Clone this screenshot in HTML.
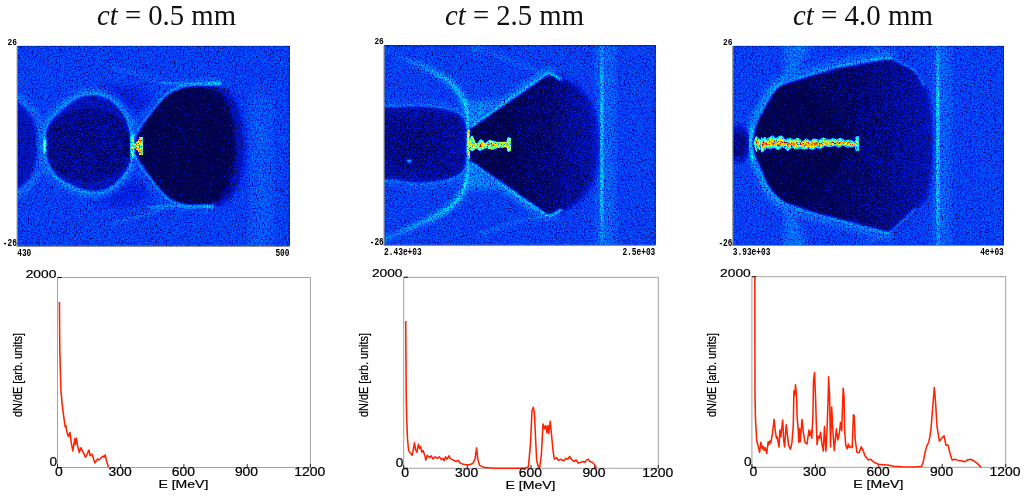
<!DOCTYPE html><html><head><meta charset="utf-8"><title>ct</title><style>html,body{margin:0;padding:0;background:#fff;overflow:hidden}svg{display:block}</style></head><body>
<svg width="1024" height="499" viewBox="0 0 1024 499">

<defs>
<linearGradient id="gr3" gradientUnits="userSpaceOnUse" x1="770" y1="0" x2="930" y2="0"><stop offset="0" stop-color="#010101"/><stop offset="0.5" stop-color="#030303"/><stop offset="1" stop-color="#0a0a0a"/></linearGradient>
<linearGradient id="gr2" gradientUnits="userSpaceOnUse" x1="500" y1="0" x2="598" y2="0"><stop offset="0" stop-color="#010101"/><stop offset="0.5" stop-color="#040404"/><stop offset="1" stop-color="#0b0b0b"/></linearGradient>
<linearGradient id="gr1" gradientUnits="userSpaceOnUse" x1="185" y1="0" x2="245" y2="0"><stop offset="0" stop-color="#010101"/><stop offset="0.5" stop-color="#050505"/><stop offset="1" stop-color="#0f0f0f"/></linearGradient>
<linearGradient id="vl" x1="0" y1="0" x2="0" y2="1"><stop offset="0" stop-color="#303030"/><stop offset="0.3" stop-color="#4f4f4f"/><stop offset="0.7" stop-color="#4f4f4f"/><stop offset="1" stop-color="#303030"/></linearGradient>
<linearGradient id="gat" gradientUnits="userSpaceOnUse" x1="470" y1="126" x2="395" y2="55"><stop offset="0" stop-color="#4f4f4f"/><stop offset="0.5" stop-color="#424242"/><stop offset="1" stop-color="#262626"/></linearGradient>
<linearGradient id="gab" gradientUnits="userSpaceOnUse" x1="470" y1="164" x2="395" y2="235"><stop offset="0" stop-color="#4f4f4f"/><stop offset="0.6" stop-color="#424242"/><stop offset="1" stop-color="#303030"/></linearGradient>
<linearGradient id="gath" gradientUnits="userSpaceOnUse" x1="470" y1="126" x2="395" y2="55"><stop offset="0" stop-color="#3d3d3d"/><stop offset="0.5" stop-color="#363636"/><stop offset="1" stop-color="#242424"/></linearGradient>
<linearGradient id="gabh" gradientUnits="userSpaceOnUse" x1="470" y1="164" x2="395" y2="235"><stop offset="0" stop-color="#3d3d3d"/><stop offset="0.6" stop-color="#363636"/><stop offset="1" stop-color="#2b2b2b"/></linearGradient>
<filter id="b05" color-interpolation-filters="sRGB"><feGaussianBlur stdDeviation="0.5"/></filter>
<filter id="b1" color-interpolation-filters="sRGB"><feGaussianBlur stdDeviation="1"/></filter>
<filter id="b15" color-interpolation-filters="sRGB"><feGaussianBlur stdDeviation="1.5"/></filter>
<filter id="b2" color-interpolation-filters="sRGB"><feGaussianBlur stdDeviation="2"/></filter>
<filter id="b3" color-interpolation-filters="sRGB"><feGaussianBlur stdDeviation="3"/></filter>
<filter id="b5" color-interpolation-filters="sRGB"><feGaussianBlur stdDeviation="5"/></filter>
<filter id="b8" color-interpolation-filters="sRGB"><feGaussianBlur stdDeviation="8"/></filter>


<filter id="jet0" filterUnits="userSpaceOnUse" x="17.5" y="46.0" width="272.0" height="199.7" color-interpolation-filters="sRGB">
<feTurbulence type="fractalNoise" baseFrequency="0.71" numOctaves="2" seed="3" result="t"/>
<feColorMatrix in="t" type="matrix" values="2.2 0 0 0 -0.6  2.2 0 0 0 -0.6  2.2 0 0 0 -0.6  0 0 0 0 1" result="n0"/>
<feComponentTransfer in="n0" result="n"><feFuncR type="gamma" exponent="0.6"/><feFuncG type="gamma" exponent="0.6"/><feFuncB type="gamma" exponent="0.6"/></feComponentTransfer>
<feColorMatrix in="t" type="matrix" values="0 1 0 0 0  0 1 0 0 0  0 1 0 0 0  0 0 0 0 1" result="gr"/>
<feColorMatrix in="t" type="matrix" values="0 0 8 0 -5.0  0 0 8 0 -5.0  0 0 8 0 -5.0  0 0 0 0 1" result="d"/>
<feComposite in="SourceGraphic" in2="n" operator="arithmetic" k1="1.0" k2="0.38" k3="0" k4="0" result="v1"/>
<feComposite in="SourceGraphic" in2="gr" operator="arithmetic" k1="0" k2="60" k3="10" k4="-6.5" result="w"/>
<feColorMatrix in="SourceGraphic" type="matrix" values="-20 0 0 0 2  -20 0 0 0 2  -20 0 0 0 2  0 0 0 0 1" result="w2"/>
<feComposite in="w" in2="w2" operator="arithmetic" k1="1" k2="0" k3="0" k4="0" result="wd"/>
<feColorMatrix in="wd" type="matrix" values="0.08 0 0 0 0  0.08 0 0 0 0  0.08 0 0 0 0  0 0 0 0 1" result="ws"/>
<feBlend in="v1" in2="ws" mode="lighten" result="v2"/>
<feComposite in="v2" in2="d" operator="arithmetic" k1="0" k2="1" k3="-0.09" k4="0" result="v"/>
<feComponentTransfer in="v" result="c">
<feFuncR type="table" tableValues="0.000 0.000 0.000 0.000 0.000 0.000 0.000 0.000 0.000 0.000 0.000 0.000 0.000 0.000 0.000 0.058 0.154 0.250 0.346 0.442 0.538 0.635 0.731 0.827 0.923 1.000 1.000 1.000 1.000 1.000 1.000 1.000 1.000 1.000 1.000 1.000 0.917 0.812 0.708 0.604 0.500"/>
<feFuncG type="table" tableValues="0.010 0.018 0.047 0.080 0.130 0.180 0.262 0.344 0.426 0.508 0.590 0.672 0.754 0.836 0.918 1.000 1.000 1.000 1.000 1.000 1.000 1.000 1.000 1.000 1.000 1.000 0.962 0.865 0.769 0.673 0.577 0.481 0.385 0.288 0.192 0.096 0.000 0.000 0.000 0.000 0.000"/>
<feFuncB type="table" tableValues="0.300 0.448 0.595 0.743 0.891 0.962 0.983 1.000 1.000 1.000 1.000 1.000 1.000 1.000 1.000 0.946 0.857 0.768 0.679 0.589 0.500 0.411 0.321 0.232 0.143 0.054 0.000 0.000 0.000 0.000 0.000 0.000 0.000 0.000 0.000 0.000 0.000 0.000 0.000 0.000 0.000"/>
<feFuncA type="linear" slope="0" intercept="1"/>
</feComponentTransfer>
<feGaussianBlur in="c" stdDeviation="0.55"/>
</filter>

<filter id="jet1" filterUnits="userSpaceOnUse" x="384.4" y="45.5" width="270.9" height="199.2" color-interpolation-filters="sRGB">
<feTurbulence type="fractalNoise" baseFrequency="0.71" numOctaves="2" seed="10" result="t"/>
<feColorMatrix in="t" type="matrix" values="2.2 0 0 0 -0.6  2.2 0 0 0 -0.6  2.2 0 0 0 -0.6  0 0 0 0 1" result="n0"/>
<feComponentTransfer in="n0" result="n"><feFuncR type="gamma" exponent="0.6"/><feFuncG type="gamma" exponent="0.6"/><feFuncB type="gamma" exponent="0.6"/></feComponentTransfer>
<feColorMatrix in="t" type="matrix" values="0 1 0 0 0  0 1 0 0 0  0 1 0 0 0  0 0 0 0 1" result="gr"/>
<feColorMatrix in="t" type="matrix" values="0 0 8 0 -5.0  0 0 8 0 -5.0  0 0 8 0 -5.0  0 0 0 0 1" result="d"/>
<feComposite in="SourceGraphic" in2="n" operator="arithmetic" k1="1.0" k2="0.38" k3="0" k4="0" result="v1"/>
<feComposite in="SourceGraphic" in2="gr" operator="arithmetic" k1="0" k2="60" k3="10" k4="-6.5" result="w"/>
<feColorMatrix in="SourceGraphic" type="matrix" values="-20 0 0 0 2  -20 0 0 0 2  -20 0 0 0 2  0 0 0 0 1" result="w2"/>
<feComposite in="w" in2="w2" operator="arithmetic" k1="1" k2="0" k3="0" k4="0" result="wd"/>
<feColorMatrix in="wd" type="matrix" values="0.08 0 0 0 0  0.08 0 0 0 0  0.08 0 0 0 0  0 0 0 0 1" result="ws"/>
<feBlend in="v1" in2="ws" mode="lighten" result="v2"/>
<feComposite in="v2" in2="d" operator="arithmetic" k1="0" k2="1" k3="-0.09" k4="0" result="v"/>
<feComponentTransfer in="v" result="c">
<feFuncR type="table" tableValues="0.000 0.000 0.000 0.000 0.000 0.000 0.000 0.000 0.000 0.000 0.000 0.000 0.000 0.000 0.000 0.058 0.154 0.250 0.346 0.442 0.538 0.635 0.731 0.827 0.923 1.000 1.000 1.000 1.000 1.000 1.000 1.000 1.000 1.000 1.000 1.000 0.917 0.812 0.708 0.604 0.500"/>
<feFuncG type="table" tableValues="0.010 0.018 0.047 0.080 0.130 0.180 0.262 0.344 0.426 0.508 0.590 0.672 0.754 0.836 0.918 1.000 1.000 1.000 1.000 1.000 1.000 1.000 1.000 1.000 1.000 1.000 0.962 0.865 0.769 0.673 0.577 0.481 0.385 0.288 0.192 0.096 0.000 0.000 0.000 0.000 0.000"/>
<feFuncB type="table" tableValues="0.300 0.448 0.595 0.743 0.891 0.962 0.983 1.000 1.000 1.000 1.000 1.000 1.000 1.000 1.000 0.946 0.857 0.768 0.679 0.589 0.500 0.411 0.321 0.232 0.143 0.054 0.000 0.000 0.000 0.000 0.000 0.000 0.000 0.000 0.000 0.000 0.000 0.000 0.000 0.000 0.000"/>
<feFuncA type="linear" slope="0" intercept="1"/>
</feComponentTransfer>
<feGaussianBlur in="c" stdDeviation="0.55"/>
</filter>

<filter id="jet2" filterUnits="userSpaceOnUse" x="733.1" y="46.0" width="270.7" height="198.9" color-interpolation-filters="sRGB">
<feTurbulence type="fractalNoise" baseFrequency="0.71" numOctaves="2" seed="17" result="t"/>
<feColorMatrix in="t" type="matrix" values="2.2 0 0 0 -0.6  2.2 0 0 0 -0.6  2.2 0 0 0 -0.6  0 0 0 0 1" result="n0"/>
<feComponentTransfer in="n0" result="n"><feFuncR type="gamma" exponent="0.6"/><feFuncG type="gamma" exponent="0.6"/><feFuncB type="gamma" exponent="0.6"/></feComponentTransfer>
<feColorMatrix in="t" type="matrix" values="0 1 0 0 0  0 1 0 0 0  0 1 0 0 0  0 0 0 0 1" result="gr"/>
<feColorMatrix in="t" type="matrix" values="0 0 8 0 -5.0  0 0 8 0 -5.0  0 0 8 0 -5.0  0 0 0 0 1" result="d"/>
<feComposite in="SourceGraphic" in2="n" operator="arithmetic" k1="1.0" k2="0.38" k3="0" k4="0" result="v1"/>
<feComposite in="SourceGraphic" in2="gr" operator="arithmetic" k1="0" k2="60" k3="10" k4="-6.5" result="w"/>
<feColorMatrix in="SourceGraphic" type="matrix" values="-20 0 0 0 2  -20 0 0 0 2  -20 0 0 0 2  0 0 0 0 1" result="w2"/>
<feComposite in="w" in2="w2" operator="arithmetic" k1="1" k2="0" k3="0" k4="0" result="wd"/>
<feColorMatrix in="wd" type="matrix" values="0.08 0 0 0 0  0.08 0 0 0 0  0.08 0 0 0 0  0 0 0 0 1" result="ws"/>
<feBlend in="v1" in2="ws" mode="lighten" result="v2"/>
<feComposite in="v2" in2="d" operator="arithmetic" k1="0" k2="1" k3="-0.09" k4="0" result="v"/>
<feComponentTransfer in="v" result="c">
<feFuncR type="table" tableValues="0.000 0.000 0.000 0.000 0.000 0.000 0.000 0.000 0.000 0.000 0.000 0.000 0.000 0.000 0.000 0.058 0.154 0.250 0.346 0.442 0.538 0.635 0.731 0.827 0.923 1.000 1.000 1.000 1.000 1.000 1.000 1.000 1.000 1.000 1.000 1.000 0.917 0.812 0.708 0.604 0.500"/>
<feFuncG type="table" tableValues="0.010 0.018 0.047 0.080 0.130 0.180 0.262 0.344 0.426 0.508 0.590 0.672 0.754 0.836 0.918 1.000 1.000 1.000 1.000 1.000 1.000 1.000 1.000 1.000 1.000 1.000 0.962 0.865 0.769 0.673 0.577 0.481 0.385 0.288 0.192 0.096 0.000 0.000 0.000 0.000 0.000"/>
<feFuncB type="table" tableValues="0.300 0.448 0.595 0.743 0.891 0.962 0.983 1.000 1.000 1.000 1.000 1.000 1.000 1.000 1.000 0.946 0.857 0.768 0.679 0.589 0.500 0.411 0.321 0.232 0.143 0.054 0.000 0.000 0.000 0.000 0.000 0.000 0.000 0.000 0.000 0.000 0.000 0.000 0.000 0.000 0.000"/>
<feFuncA type="linear" slope="0" intercept="1"/>
</feComponentTransfer>
<feGaussianBlur in="c" stdDeviation="0.55"/>
</filter>
</defs>
<rect width="1024" height="499" fill="#fff"/>
<text x="97" y="24.6" font-family="'Liberation Serif',serif" font-size="29" fill="#111" textLength="139" lengthAdjust="spacingAndGlyphs"><tspan font-style="italic">ct</tspan> = 0.5 mm</text>
<text x="445" y="24.6" font-family="'Liberation Serif',serif" font-size="29" fill="#111" textLength="139" lengthAdjust="spacingAndGlyphs"><tspan font-style="italic">ct</tspan> = 2.5 mm</text>
<text x="793" y="24.6" font-family="'Liberation Serif',serif" font-size="29" fill="#111" textLength="140" lengthAdjust="spacingAndGlyphs"><tspan font-style="italic">ct</tspan> = 4.0 mm</text>
<g filter="url(#jet0)">
<rect x="12.5" y="41.0" width="282.0" height="209.7" fill="#212121"/>
<rect x="250" y="95" width="22" height="170" fill="#292929" filter="url(#b8)"/>
<ellipse cx="120" cy="100" rx="30" ry="14" fill="#181818" filter="url(#b5)"/>
<ellipse cx="120" cy="192" rx="30" ry="14" fill="#181818" filter="url(#b5)"/>
<ellipse cx="10" cy="145.8" rx="30" ry="50" fill="none" stroke="#363636" stroke-width="5" filter="url(#b3)"/>
<ellipse cx="10" cy="145.8" rx="27" ry="45" fill="#0b0b0b" filter="url(#b3)"/>
<path d="M44.3,146.0 C44.3,140.8 43.9,132.5 46.0,127.0 C48.1,121.5 52.2,117.8 57.0,113.0 C61.8,108.2 69.2,101.8 75.0,98.5 C80.8,95.2 86.2,93.5 92.0,93.5 C97.8,93.5 104.7,95.2 110.0,98.5 C115.3,101.8 120.6,107.8 124.0,113.0 C127.4,118.2 129.2,124.5 130.5,130.0 C131.8,135.5 131.9,140.6 132.0,146.0 C132.1,151.4 132.4,157.5 131.2,162.5 C129.9,167.5 127.9,171.8 124.5,176.0 C121.1,180.2 115.5,185.2 111.0,188.0 C106.5,190.8 102.5,192.2 97.6,192.7 C92.7,193.1 87.1,192.4 81.5,190.7 C75.9,189.0 68.9,185.7 64.0,182.6 C59.1,179.5 54.9,176.0 51.9,172.0 C48.9,168.0 47.2,162.7 45.9,158.4 C44.6,154.1 44.3,151.2 44.3,146.0 Z" fill="none" stroke="#343434" stroke-width="9" filter="url(#b3)"/>
<path d="M131.7,145.8 C132.4,143.8 133.9,137.8 135.7,134.0 C137.5,130.2 139.9,126.8 142.3,123.3 C144.7,119.8 147.2,116.7 150.3,112.7 C153.4,108.7 157.4,103.0 161.0,99.3 C164.6,95.6 167.2,93.0 171.7,90.6 C176.1,88.2 182.5,86.0 187.7,85.0 C192.9,84.0 197.4,84.5 203.0,84.3 C208.6,84.1 218.0,83.7 221.0,83.6" fill="none" stroke="#383838" stroke-width="8" filter="url(#b3)"/>
<path d="M131.7,145.8 C132.4,147.8 133.9,153.9 135.7,157.6 C137.5,161.4 139.9,164.8 142.3,168.3 C144.7,171.9 147.2,174.9 150.3,178.9 C153.4,182.9 157.4,188.6 161.0,192.3 C164.6,196.0 167.2,198.6 171.7,201.0 C176.1,203.4 183.0,205.7 187.7,206.6 C192.4,207.5 195.6,206.4 200.0,206.3 C204.4,206.2 211.7,206.1 214.0,206.0" fill="none" stroke="#383838" stroke-width="8" filter="url(#b3)"/>
<path d="M166,84 Q140,74 112,67 M166,207.5 Q140,217 112,224" fill="none" stroke="#2f2f2f" stroke-width="2.5" filter="url(#b15)"/>
<path d="M14,96 L44,121 M14,196 L44,171" fill="none" stroke="#303030" stroke-width="3" filter="url(#b2)"/>
<path d="M44.3,146.0 C44.3,140.8 43.9,132.5 46.0,127.0 C48.1,121.5 52.2,117.8 57.0,113.0 C61.8,108.2 69.2,101.8 75.0,98.5 C80.8,95.2 86.2,93.5 92.0,93.5 C97.8,93.5 104.7,95.2 110.0,98.5 C115.3,101.8 120.6,107.8 124.0,113.0 C127.4,118.2 129.2,124.5 130.5,130.0 C131.8,135.5 131.9,140.6 132.0,146.0 C132.1,151.4 132.4,157.5 131.2,162.5 C129.9,167.5 127.9,171.8 124.5,176.0 C121.1,180.2 115.5,185.2 111.0,188.0 C106.5,190.8 102.5,192.2 97.6,192.7 C92.7,193.1 87.1,192.4 81.5,190.7 C75.9,189.0 68.9,185.7 64.0,182.6 C59.1,179.5 54.9,176.0 51.9,172.0 C48.9,168.0 47.2,162.7 45.9,158.4 C44.6,154.1 44.3,151.2 44.3,146.0 Z" fill="#121212" filter="url(#b15)"/>
<path d="M46.0,146.0 C46.0,140.3 46.0,132.8 48.0,128.0 C50.0,123.2 54.0,120.0 58.0,117.0 C62.0,114.0 66.3,111.7 72.0,110.0 C77.7,108.3 85.7,107.0 92.0,107.0 C98.3,107.0 105.0,108.0 110.0,110.0 C115.0,112.0 118.8,115.3 122.0,119.0 C125.2,122.7 127.5,127.5 129.0,132.0 C130.5,136.5 131.0,141.3 131.0,146.0 C131.0,150.7 130.5,155.8 129.0,160.0 C127.5,164.2 125.2,167.8 122.0,171.0 C118.8,174.2 115.0,177.0 110.0,179.0 C105.0,181.0 98.3,182.8 92.0,183.0 C85.7,183.2 77.7,181.7 72.0,180.0 C66.3,178.3 62.0,176.0 58.0,173.0 C54.0,170.0 50.0,166.5 48.0,162.0 C46.0,157.5 46.0,151.7 46.0,146.0 Z" fill="#060606" filter="url(#b2)"/>
<path d="M131.7,145.8 C131.7,141.9 133.9,137.8 135.7,134.0 C137.5,130.2 139.9,126.8 142.3,123.3 C144.7,119.8 147.2,116.7 150.3,112.7 C153.4,108.7 157.4,103.0 161.0,99.3 C164.6,95.6 167.2,93.0 171.7,90.6 C176.1,88.2 182.4,85.9 187.7,85.0 C193.0,84.1 198.4,84.5 203.7,85.0 C209.0,85.5 214.8,85.6 219.7,88.0 C224.6,90.4 229.6,94.8 233.0,99.3 C236.4,103.8 238.2,107.5 240.0,115.3 C241.8,123.0 243.7,135.6 243.7,145.8 C243.7,156.0 241.8,168.6 240.0,176.3 C238.2,184.1 236.4,187.8 233.0,192.3 C229.6,196.9 224.6,201.2 219.7,203.6 C214.8,206.0 209.0,206.1 203.7,206.6 C198.4,207.1 193.0,207.5 187.7,206.6 C182.4,205.7 176.1,203.4 171.7,201.0 C167.2,198.6 164.6,196.0 161.0,192.3 C157.4,188.6 153.4,182.9 150.3,178.9 C147.2,174.9 144.7,171.9 142.3,168.3 C139.9,164.8 137.5,161.4 135.7,157.6 C133.9,153.9 131.7,149.7 131.7,145.8 Z" fill="url(#gr1)" filter="url(#b3)"/>
<path d="M132.5,145.8 C132.5,141.9 134.8,137.7 136.5,134.0 C138.2,130.3 140.6,127.0 143.0,123.5 C145.4,120.0 147.9,116.8 151.0,113.0 C154.1,109.2 158.0,104.1 161.5,100.5 C165.0,96.9 167.8,93.8 172.0,91.5 C176.2,89.2 181.8,87.2 187.0,86.4 C192.2,85.6 198.2,85.8 203.0,86.6 C207.8,87.4 212.2,88.9 216.0,91.5 C219.8,94.1 223.2,96.9 226.0,102.0 C228.8,107.1 231.0,114.7 232.5,122.0 C234.0,129.3 235.0,137.9 235.0,145.8 C235.0,153.7 234.0,162.3 232.5,169.6 C231.0,176.9 228.8,184.5 226.0,189.6 C223.2,194.7 219.8,197.5 216.0,200.1 C212.2,202.7 207.8,204.2 203.0,205.0 C198.2,205.9 192.2,206.0 187.0,205.2 C181.8,204.4 176.2,202.5 172.0,200.1 C167.8,197.8 165.0,194.7 161.5,191.1 C158.0,187.5 154.1,182.4 151.0,178.6 C147.9,174.8 145.4,171.6 143.0,168.1 C140.6,164.6 138.2,161.3 136.5,157.6 C134.8,153.9 132.5,149.7 132.5,145.8 Z" fill="#000000" filter="url(#b3)"/>
<path d="M44.3,146.0 C44.3,140.8 43.9,132.5 46.0,127.0 C48.1,121.5 52.2,117.8 57.0,113.0 C61.8,108.2 69.2,101.8 75.0,98.5 C80.8,95.2 86.2,93.5 92.0,93.5 C97.8,93.5 104.7,95.2 110.0,98.5 C115.3,101.8 120.6,107.8 124.0,113.0 C127.4,118.2 129.2,124.5 130.5,130.0 C131.8,135.5 131.9,140.6 132.0,146.0 C132.1,151.4 132.4,157.5 131.2,162.5 C129.9,167.5 127.9,171.8 124.5,176.0 C121.1,180.2 115.5,185.2 111.0,188.0 C106.5,190.8 102.5,192.2 97.6,192.7 C92.7,193.1 87.1,192.4 81.5,190.7 C75.9,189.0 68.9,185.7 64.0,182.6 C59.1,179.5 54.9,176.0 51.9,172.0 C48.9,168.0 47.2,162.7 45.9,158.4 C44.6,154.1 44.3,151.2 44.3,146.0 Z" fill="none" stroke="#454545" stroke-width="2" filter="url(#b1)"/>
<path d="M131.7,145.8 C132.4,143.8 133.9,137.8 135.7,134.0 C137.5,130.2 139.9,126.8 142.3,123.3 C144.7,119.8 147.2,116.7 150.3,112.7 C153.4,108.7 157.4,103.0 161.0,99.3 C164.6,95.6 167.2,93.0 171.7,90.6 C176.1,88.2 182.5,86.0 187.7,85.0 C192.9,84.0 197.4,84.5 203.0,84.3 C208.6,84.1 218.0,83.7 221.0,83.6" fill="none" stroke="#4f4f4f" stroke-width="1.8" filter="url(#b1)"/>
<path d="M131.7,145.8 C132.4,147.8 133.9,153.9 135.7,157.6 C137.5,161.4 139.9,164.8 142.3,168.3 C144.7,171.9 147.2,174.9 150.3,178.9 C153.4,182.9 157.4,188.6 161.0,192.3 C164.6,196.0 167.2,198.6 171.7,201.0 C176.1,203.4 183.0,205.7 187.7,206.6 C192.4,207.5 195.6,206.4 200.0,206.3 C204.4,206.2 211.7,206.1 214.0,206.0" fill="none" stroke="#4f4f4f" stroke-width="1.8" filter="url(#b1)"/>
<path d="M162,83.0 Q188,84.8 221,83.6 M148,207.4 Q180,205.2 214,206.4" fill="none" stroke="#4a4a4a" stroke-width="1.5" filter="url(#b1)"/>
<ellipse cx="44.8" cy="145.8" rx="1.3" ry="8" fill="#757575" filter="url(#b1)"/>
<ellipse cx="132.3" cy="145.8" rx="1.6" ry="13" fill="#757575" filter="url(#b1)"/>
<path d="M133,146 L138.5,140 L139.5,137 L142.5,137 L142.8,155 L139.5,155 L138.5,151.5 Z" fill="#999999" filter="url(#b05)"/>
</g>
<path d="M17.5,46.2 H289.2 V245.7" fill="none" stroke="#000830" stroke-opacity="0.55" stroke-width="0.7"/>
<path d="M17.2,46.0 V246.29999999999998 H289.5" fill="none" stroke="#8e8e8e" stroke-width="1.2"/>
<g filter="url(#jet1)">
<rect x="379.4" y="40.5" width="280.9" height="209.2" fill="#212121"/>
<rect x="596" y="30" width="20" height="235" fill="#2b2b2b" filter="url(#b5)"/>
<path d="M470.0,126.0 C469.0,121.8 467.2,108.2 464.0,101.0 C460.8,93.8 456.3,88.0 451.0,83.0 C445.7,78.0 439.2,74.8 432.0,71.0 C424.8,67.2 416.7,63.8 408.0,60.0 C399.3,56.2 384.7,50.0 380.0,48.0" fill="none" stroke="url(#gath)" stroke-width="7" filter="url(#b2)"/>
<path d="M470.0,164.0 C469.0,168.2 467.2,181.9 464.0,189.0 C460.8,196.1 456.3,201.7 451.0,206.5 C445.7,211.3 439.2,214.2 432.0,218.0 C424.8,221.8 416.7,225.2 408.0,229.0 C399.3,232.8 384.7,239.0 380.0,241.0" fill="none" stroke="url(#gabh)" stroke-width="7" filter="url(#b2)"/>
<path d="M470.0,126.0 C469.0,121.8 467.2,108.2 464.0,101.0 C460.8,93.8 456.3,88.0 451.0,83.0 C445.7,78.0 439.2,74.8 432.0,71.0 C424.8,67.2 416.7,63.8 408.0,60.0 C399.3,56.2 384.7,50.0 380.0,48.0" fill="none" stroke="url(#gat)" stroke-width="2.4" filter="url(#b1)"/>
<path d="M470.0,164.0 C469.0,168.2 467.2,181.9 464.0,189.0 C460.8,196.1 456.3,201.7 451.0,206.5 C445.7,211.3 439.2,214.2 432.0,218.0 C424.8,221.8 416.7,225.2 408.0,229.0 C399.3,232.8 384.7,239.0 380.0,241.0" fill="none" stroke="url(#gab)" stroke-width="2.4" filter="url(#b1)"/>
<path d="M546,75 C520,64 495,55 470,44 M470,44 L478,58" fill="none" stroke="#2f2f2f" stroke-width="3" filter="url(#b2)"/>
<path d="M548,215 C520,220 500,226 478,236" fill="none" stroke="#303030" stroke-width="3" filter="url(#b2)"/>
<path d="M469,128 L464,100 L500,100 Z M469,161 L464,189 L500,189 Z" fill="#333333" filter="url(#b3)"/>
<path d="M378.0,112.0 C381.2,100.7 390.0,107.2 397.0,106.0 C404.0,104.8 412.0,104.7 420.0,105.0 C428.0,105.3 438.3,106.7 445.0,108.0 C451.7,109.3 456.3,110.3 460.0,113.0 C463.7,115.7 465.6,118.7 467.0,124.0 C468.4,129.3 468.5,137.8 468.5,144.6 C468.5,151.4 468.4,159.9 467.0,165.0 C465.6,170.1 463.7,172.3 460.0,175.0 C456.3,177.7 451.7,179.5 445.0,181.0 C438.3,182.5 428.0,184.0 420.0,184.0 C412.0,184.0 404.0,182.7 397.0,181.0 C390.0,179.3 381.2,185.5 378.0,174.0 C374.8,162.5 374.8,123.3 378.0,112.0 Z" fill="none" stroke="#383838" stroke-width="6" filter="url(#b3)"/>
<path d="M556,77 L551,74 L546,74.5 L471,127 L470.5,144.6 L471,162.2 L546,214.7 L551,215.2 L556,212.2" fill="none" stroke="#454545" stroke-width="8" filter="url(#b3)"/>
<path d="M378.0,112.0 C381.2,100.7 390.0,107.2 397.0,106.0 C404.0,104.8 412.0,104.7 420.0,105.0 C428.0,105.3 438.3,106.7 445.0,108.0 C451.7,109.3 456.3,110.3 460.0,113.0 C463.7,115.7 465.6,118.7 467.0,124.0 C468.4,129.3 468.5,137.8 468.5,144.6 C468.5,151.4 468.4,159.9 467.0,165.0 C465.6,170.1 463.7,172.3 460.0,175.0 C456.3,177.7 451.7,179.5 445.0,181.0 C438.3,182.5 428.0,184.0 420.0,184.0 C412.0,184.0 404.0,182.7 397.0,181.0 C390.0,179.3 381.2,185.5 378.0,174.0 C374.8,162.5 374.8,123.3 378.0,112.0 Z" fill="#080808" filter="url(#b3)"/>
<ellipse cx="412" cy="144.6" rx="32" ry="22" fill="#050505" filter="url(#b8)"/>
<path d="M540,78 L551,74 L575,88 L592,106 L597,125 L598,144.6 L597,164.2 L592,183.2 L575,201.2 L551,215.2 L540,211.2 Z" fill="url(#gr2)" filter="url(#b3)"/>
<path d="M470.5,144.6 L471,127 L546,74.5 L551,74 L575,88 L584,97 L584,192.2 L575,201.2 L551,215.2 L546,214.7 L471,162.2 Z" fill="url(#gr2)" stroke="url(#gr2)" stroke-width="2" stroke-linejoin="round" filter="url(#b2)"/>
<path d="M471.5,144.6 C471.5,139.1 467.8,133.8 472.0,128.0 C476.2,122.2 490.7,110.5 497.0,110.0 C503.3,109.5 507.2,119.2 510.0,125.0 C512.8,130.8 514.0,138.1 514.0,144.6 C514.0,151.1 512.8,158.4 510.0,164.2 C507.2,170.0 503.3,179.7 497.0,179.2 C490.7,178.7 476.2,167.0 472.0,161.2 C467.8,155.4 471.5,150.1 471.5,144.6 Z" fill="#000000" filter="url(#b2)"/>
<path d="M562,80 L551,73.6 L546,74 L471,126.5 M471,162.7 L546,215.2 L551,215.6 L562,209.2" fill="none" stroke="#575757" stroke-width="2.2" filter="url(#b1)"/>
<path d="M378.0,112.0 C381.2,100.7 390.0,107.2 397.0,106.0 C404.0,104.8 412.0,104.7 420.0,105.0 C428.0,105.3 438.3,106.7 445.0,108.0 C451.7,109.3 456.3,110.3 460.0,113.0 C463.7,115.7 465.6,118.7 467.0,124.0 C468.4,129.3 468.5,137.8 468.5,144.6 C468.5,151.4 468.4,159.9 467.0,165.0 C465.6,170.1 463.7,172.3 460.0,175.0 C456.3,177.7 451.7,179.5 445.0,181.0 C438.3,182.5 428.0,184.0 420.0,184.0 C412.0,184.0 404.0,182.7 397.0,181.0 C390.0,179.3 381.2,185.5 378.0,174.0 C374.8,162.5 374.8,123.3 378.0,112.0 Z" fill="none" stroke="#404040" stroke-width="1.6" filter="url(#b1)"/>
<path d="M464.5,100 Q468,112 468.5,128 Q467.5,144.6 468.5,161 Q468,178 464.5,190" fill="none" stroke="#4c4c4c" stroke-width="2.4" filter="url(#b1)"/>
<rect x="600.4" y="30" width="2.6" height="235" fill="url(#vl)" filter="url(#b1)"/>
<circle cx="409.3" cy="161" r="2" fill="#4c4c4c" filter="url(#b1)"/>
<path d="M468.8,130 Q467,144.6 469.5,158" fill="none" stroke="#808080" stroke-width="2.2" filter="url(#b05)"/>
<path d="M469,144 L472,137 L474,142 L477,146 L481,140.5 L485,145 L490,141 L496,143 L507.5,142.8 L508.5,138.5 L509.8,139 L509.8,150 L508.5,150.5 L507.5,146 L498,146.8 L492,148.5 L486,146.5 L480,149.5 L476,147 L472,150 Z" fill="#9e9e9e" stroke="#6b6b6b" stroke-width="2.6" stroke-linejoin="round" filter="url(#b05)"/>
</g>
<path d="M384.4,45.7 H655.0 V244.7" fill="none" stroke="#000830" stroke-opacity="0.55" stroke-width="0.7"/>
<path d="M384.09999999999997,45.5 V245.29999999999998 H655.3" fill="none" stroke="#8e8e8e" stroke-width="1.2"/>
<g filter="url(#jet2)">
<rect x="728.1" y="41.0" width="280.7" height="208.9" fill="#212121"/>
<rect x="933" y="30" width="18" height="235" fill="#2b2b2b" filter="url(#b5)"/>
<path d="M893,58.5 Q888,57 881,58.5 L839,66 L789,81 C784,82 779,84 775,89 C770,95 765,104 761,112 C756,120 752,130 751,144 C752,152 754,157 758,165 C761,172 764,182 769,189 C773,195 778,200 785,204 L812,213.5 L852,224 L882,232 Q886,234 890,232" fill="none" stroke="#323232" stroke-width="12" filter="url(#b3)"/>
<path d="M800,78 L789,81 C784,82 779,84 775,89 C770,95 765,104 761,112 C756,120 752,130 751,144 C752,152 754,157 758,165 C761,172 764,182 769,189 C773,195 778,200 785,204 L800,209" fill="none" stroke="#424242" stroke-width="6.5" filter="url(#b2)"/>
<path d="M783,85 L795,80 L812,40 L786,40 Z M783,202 L795,207.5 L808,250 L784,250 Z" fill="#2e2e2e" filter="url(#b3)"/>
<path d="M893,58.5 L870,44 M886,233 L860,246" fill="none" stroke="#303030" stroke-width="3" filter="url(#b2)"/>
<ellipse cx="739" cy="144" rx="11" ry="17" fill="#050505" filter="url(#b3)"/>
<path d="M751,144 C752,130 756,120 761,112 C765,104 770,95 775,89 C779,84 784,82 789,81 L839,66 L881,58.5 Q888,57 893,58.5 L913,69 Q924,80 928,96 Q932,120 932,144 Q932,175 925,199 L905,219 L890,232 Q886,234 882,232 L852,224 L812,213.5 L785,204 C778,200 773,195 769,189 C764,182 761,172 758,165 C754,157 752,152 751,144 Z" fill="url(#gr3)" filter="url(#b2)"/>
<path d="M752,144 C753,130 757,120 762,113 C766,105 771,96 776,90.5 C780,86 786,84 796,82.5 L858,144 L796,205 C786,203 778,199 770,188 C765,181 762,172 759,165 C755,157 753,152 752,144 Z" fill="#000000" filter="url(#b2)"/>
<path d="M893,58.5 Q888,57 881,58.5 L839,66 L789,81 C784,82 779,84 775,89 C770,95 765,104 761,112 C756,120 752,130 751,144 C752,152 754,157 758,165 C761,172 764,182 769,189 C773,195 778,200 785,204 L812,213.5 L852,224 L882,232 Q886,234 890,232" fill="none" stroke="#525252" stroke-width="1.8" filter="url(#b1)"/>
<path d="M893,58.5 L913,69 Q920,76 924,86 M890,232 L905,219 L916,208" fill="none" stroke="#404040" stroke-width="1.6" filter="url(#b1)"/>
<rect x="936.3" y="30" width="2.8" height="235" fill="url(#vl)" filter="url(#b1)"/>
<path d="M752,128 Q748,144 753,160" fill="none" stroke="#4c4c4c" stroke-width="3" filter="url(#b1)"/>
<path d="M754.5,143.6 L756.0,137.8 L760.5,140.7 L764.6,138.0 L768.3,139.2 L772.0,136.3 L775.8,139.3 L780.7,136.2 L785.7,140.3 L789.7,138.8 L793.7,140.5 L798.1,138.8 L802.5,142.4 L806.4,139.4 L810.4,141.8 L814.4,138.9 L818.4,141.1 L823.2,138.4 L828.2,140.7 L832.8,139.3 L836.5,140.3 L840.9,138.8 L845.5,141.5 L849.7,140.4 L854.0,142.7 L855.5,141.6 L856.5,137.1 L858.0,137.1 L858.0,150.1 L856.5,150.1 L855.5,145.6 L856.0,146.6 L851.7,146.0 L847.5,146.7 L842.9,144.6 L838.5,146.6 L834.8,144.5 L830.2,146.4 L825.2,145.2 L820.4,148.1 L816.4,147.0 L812.4,149.2 L808.4,147.5 L804.5,148.8 L800.1,147.3 L795.7,148.6 L791.7,146.1 L787.7,149.9 L782.7,145.8 L777.8,149.1 L774.0,146.7 L770.3,148.1 L766.6,147.2 L762.5,151.0 L758.0,147.8 Z" fill="#808080" stroke="#545454" stroke-width="2" stroke-linejoin="round" filter="url(#b05)"/>
<path d="M756.0,143.6 L756.0,140.7 L760.5,142.1 L764.6,140.8 L768.3,141.4 L772.0,140.0 L775.8,141.4 L780.7,139.9 L785.7,142.0 L789.7,141.2 L793.7,142.0 L798.1,141.2 L802.5,143.0 L806.4,141.5 L810.4,142.7 L814.4,141.3 L818.4,142.4 L823.2,141.0 L828.2,142.2 L832.8,141.4 L836.5,142.0 L840.9,141.2 L845.5,142.5 L849.7,142.0 L854.0,143.2 L857.0,143.6 L856.0,145.1 L851.7,144.8 L847.5,145.2 L842.9,144.1 L838.5,145.1 L834.8,144.1 L830.2,145.0 L825.2,144.4 L820.4,145.9 L816.4,145.3 L812.4,146.4 L808.4,145.5 L804.5,146.2 L800.1,145.5 L795.7,146.1 L791.7,144.9 L787.7,146.7 L782.7,144.7 L777.8,146.4 L774.0,145.2 L770.3,145.8 L766.6,145.4 L762.5,147.3 L758.0,145.7 Z" fill="#a3a3a3" filter="url(#b05)"/>
<path d="M757,136.6 Q753,143.6 757,151.6 M762,137.6 Q759,143.6 762,152.6" fill="none" stroke="#666666" stroke-width="1.6" filter="url(#b05)"/>
</g>
<path d="M733.1,46.2 H1003.5 V244.9" fill="none" stroke="#000830" stroke-opacity="0.55" stroke-width="0.7"/>
<path d="M732.8000000000001,46.0 V245.5 H1003.8" fill="none" stroke="#8e8e8e" stroke-width="1.2"/>
<text x="7.5" y="44.5" font-family="'Liberation Mono',monospace" font-weight="bold" font-size="9.5" textLength="9.4" lengthAdjust="spacingAndGlyphs">26</text>
<text x="2.8" y="246.3" font-family="'Liberation Mono',monospace" font-weight="bold" font-size="10" textLength="14.1" lengthAdjust="spacingAndGlyphs">-26</text>
<text x="17.2" y="255.7" font-family="'Liberation Mono',monospace" font-weight="bold" font-size="10" textLength="14.1" lengthAdjust="spacingAndGlyphs">430</text>
<text x="275.4" y="255.7" font-family="'Liberation Mono',monospace" font-weight="bold" font-size="10" textLength="14.1" lengthAdjust="spacingAndGlyphs">500</text>
<text x="374.4" y="44.0" font-family="'Liberation Mono',monospace" font-weight="bold" font-size="9.5" textLength="9.4" lengthAdjust="spacingAndGlyphs">26</text>
<text x="369.7" y="245.3" font-family="'Liberation Mono',monospace" font-weight="bold" font-size="10" textLength="14.1" lengthAdjust="spacingAndGlyphs">-26</text>
<text x="384.1" y="254.7" font-family="'Liberation Mono',monospace" font-weight="bold" font-size="10" textLength="37.6" lengthAdjust="spacingAndGlyphs">2.43e+03</text>
<text x="622.4" y="254.7" font-family="'Liberation Mono',monospace" font-weight="bold" font-size="10" textLength="32.9" lengthAdjust="spacingAndGlyphs">2.5e+03</text>
<text x="723.1" y="44.5" font-family="'Liberation Mono',monospace" font-weight="bold" font-size="9.5" textLength="9.4" lengthAdjust="spacingAndGlyphs">26</text>
<text x="718.4" y="245.5" font-family="'Liberation Mono',monospace" font-weight="bold" font-size="10" textLength="14.1" lengthAdjust="spacingAndGlyphs">-26</text>
<text x="732.8" y="254.9" font-family="'Liberation Mono',monospace" font-weight="bold" font-size="10" textLength="37.6" lengthAdjust="spacingAndGlyphs">3.93e+03</text>
<text x="980.3" y="254.9" font-family="'Liberation Mono',monospace" font-weight="bold" font-size="10" textLength="23.5" lengthAdjust="spacingAndGlyphs">4e+03</text>
<rect x="57.5" y="277.5" width="252.9" height="190.0" fill="none" stroke="#a2a2a2" stroke-width="1"/>
<path d="M57.5,467.5 v-3.4" stroke="#111" stroke-width="0.9"/>
<path d="M120.7,467.5 v-3.4" stroke="#111" stroke-width="0.9"/>
<path d="M183.9,467.5 v-3.4" stroke="#111" stroke-width="0.9"/>
<path d="M247.2,467.5 v-3.4" stroke="#111" stroke-width="0.9"/>
<path d="M310.4,467.5 v-3.4" stroke="#111" stroke-width="0.9"/>
<path d="M57.5,277.5 h4.3 M57.5,467.5 h4.3" stroke="#111" stroke-width="1.1"/>
<polyline points="59.4,302.0 59.8,350.0 60.9,390.0 62.0,402.8 63.6,415.6 65.2,426.9 66.0,425.6 66.8,431.7 68.4,436.5 70.0,432.5 71.3,442.9 72.8,450.9 74.8,438.9 75.3,444.5 76.4,438.0 77.6,446.0 79.3,452.5 80.8,447.7 82.9,451.7 85.6,457.3 88.9,450.0 90.0,455.7 92.0,454.0 94.9,462.9 97.6,458.9 98.9,460.0 102.9,456.0 104.0,457.3 105.3,454.9 106.4,460.5 108.5,467.2" fill="none" stroke="#ff2200" stroke-width="1.55" stroke-linejoin="round"/>
<text x="55.1" y="476.1" font-family="'Liberation Sans',sans-serif" stroke="#000" stroke-width="0.2" font-size="12" textLength="7.8" lengthAdjust="spacingAndGlyphs">0</text>
<text x="108.5" y="476.1" font-family="'Liberation Sans',sans-serif" stroke="#000" stroke-width="0.2" font-size="12" textLength="23.2" lengthAdjust="spacingAndGlyphs">300</text>
<text x="171.7" y="476.1" font-family="'Liberation Sans',sans-serif" stroke="#000" stroke-width="0.2" font-size="12" textLength="23.2" lengthAdjust="spacingAndGlyphs">600</text>
<text x="234.9" y="476.1" font-family="'Liberation Sans',sans-serif" stroke="#000" stroke-width="0.2" font-size="12" textLength="23.2" lengthAdjust="spacingAndGlyphs">900</text>
<text x="294.3" y="476.1" font-family="'Liberation Sans',sans-serif" stroke="#000" stroke-width="0.2" font-size="12" textLength="31.0" lengthAdjust="spacingAndGlyphs">1200</text>
<text x="25.7" y="277.6" font-family="'Liberation Sans',sans-serif" stroke="#000" stroke-width="0.2" font-size="11.6" textLength="30.6" lengthAdjust="spacingAndGlyphs">2000</text>
<text x="49.5" y="465.7" font-family="'Liberation Sans',sans-serif" stroke="#000" stroke-width="0.2" font-size="12" textLength="7.6" lengthAdjust="spacingAndGlyphs">0</text>
<text x="158.4" y="487.8" font-family="'Liberation Sans',sans-serif" stroke="#000" stroke-width="0.2" font-size="11.4" textLength="50" lengthAdjust="spacingAndGlyphs">E [MeV]</text>
<text transform="translate(21.9,417) rotate(-90) scale(1,1.13)" font-family="'Liberation Sans',sans-serif" stroke="#000" stroke-width="0.2" font-size="10.6" textLength="84" lengthAdjust="spacingAndGlyphs">dN/dE [arb. units]</text>
<rect x="403.7" y="277.3" width="254.6" height="191.0" fill="none" stroke="#a2a2a2" stroke-width="1"/>
<path d="M403.7,468.3 v-3.4" stroke="#111" stroke-width="0.9"/>
<path d="M467.3,468.3 v-3.4" stroke="#111" stroke-width="0.9"/>
<path d="M531.0,468.3 v-3.4" stroke="#111" stroke-width="0.9"/>
<path d="M594.6,468.3 v-3.4" stroke="#111" stroke-width="0.9"/>
<path d="M658.3,468.3 v-3.4" stroke="#111" stroke-width="0.9"/>
<path d="M403.7,277.3 h4.3 M403.7,468.3 h4.3" stroke="#111" stroke-width="1.1"/>
<polyline points="405.7,321.0 406.2,392.0 406.6,415.4 407.5,438.9 408.6,450.6 410.2,452.9 412.2,455.3 413.8,446.7 414.5,442.8 415.6,449.8 416.9,452.2 418.4,444.3 419.5,448.2 420.6,446.7 421.9,452.2 423.1,450.6 425.0,456.1 425.8,460.0 427.3,455.3 429.7,457.6 431.2,455.8 432.8,458.9 435.2,456.8 437.5,458.4 439.1,456.8 441.4,459.5 443.0,458.4 444.2,460.8 445.6,456.8 446.9,459.2 449.2,455.8 450.0,458.4 453.1,460.0 456.2,461.5 458.1,460.4 460.2,463.1 462.5,463.9 465.6,464.7 469.5,464.7 472.7,463.6 475.0,459.2 476.6,447.9 477.8,459.2 479.7,465.4 484.4,467.6 493.8,468.2 509.4,468.2 525.0,468.1 528.4,467.0 530.5,443.6 532.0,410.8 533.3,407.3 534.4,412.3 535.6,438.9 536.7,460.8 538.8,468.4 539.8,467.0 541.4,454.5 543.0,424.0 544.5,428.7 545.8,425.6 546.9,432.6 548.0,425.6 548.8,433.4 550.3,421.2 551.6,435.8 553.1,451.4 554.4,459.2 556.7,457.6 558.3,460.4 560.6,459.2 563.8,460.8 566.1,458.4 567.7,459.2 569.7,456.4 571.2,459.2 573.9,461.5 576.2,460.0 578.1,463.1 580.9,462.3 583.3,461.5 584.8,462.3 586.4,460.3 588.3,459.2 589.8,461.5 592.2,462.3 594.2,464.2 596.6,468.2" fill="none" stroke="#ff2200" stroke-width="1.55" stroke-linejoin="round"/>
<text x="401.3" y="476.9" font-family="'Liberation Sans',sans-serif" stroke="#000" stroke-width="0.2" font-size="12" textLength="7.8" lengthAdjust="spacingAndGlyphs">0</text>
<text x="455.1" y="476.9" font-family="'Liberation Sans',sans-serif" stroke="#000" stroke-width="0.2" font-size="12" textLength="23.2" lengthAdjust="spacingAndGlyphs">300</text>
<text x="518.8" y="476.9" font-family="'Liberation Sans',sans-serif" stroke="#000" stroke-width="0.2" font-size="12" textLength="23.2" lengthAdjust="spacingAndGlyphs">600</text>
<text x="582.4" y="476.9" font-family="'Liberation Sans',sans-serif" stroke="#000" stroke-width="0.2" font-size="12" textLength="23.2" lengthAdjust="spacingAndGlyphs">900</text>
<text x="642.2" y="476.9" font-family="'Liberation Sans',sans-serif" stroke="#000" stroke-width="0.2" font-size="12" textLength="31.0" lengthAdjust="spacingAndGlyphs">1200</text>
<text x="371.9" y="277.4" font-family="'Liberation Sans',sans-serif" stroke="#000" stroke-width="0.2" font-size="11.6" textLength="30.6" lengthAdjust="spacingAndGlyphs">2000</text>
<text x="395.7" y="466.5" font-family="'Liberation Sans',sans-serif" stroke="#000" stroke-width="0.2" font-size="12" textLength="7.6" lengthAdjust="spacingAndGlyphs">0</text>
<text x="505.5" y="488.6" font-family="'Liberation Sans',sans-serif" stroke="#000" stroke-width="0.2" font-size="11.4" textLength="50" lengthAdjust="spacingAndGlyphs">E [MeV]</text>
<text transform="translate(368.1,417) rotate(-90) scale(1,1.13)" font-family="'Liberation Sans',sans-serif" stroke="#000" stroke-width="0.2" font-size="10.6" textLength="84" lengthAdjust="spacingAndGlyphs">dN/dE [arb. units]</text>
<rect x="751.9" y="276.7" width="253.8" height="190.6" fill="none" stroke="#a2a2a2" stroke-width="1"/>
<path d="M751.9,467.3 v-3.4" stroke="#111" stroke-width="0.9"/>
<path d="M815.4,467.3 v-3.4" stroke="#111" stroke-width="0.9"/>
<path d="M878.8,467.3 v-3.4" stroke="#111" stroke-width="0.9"/>
<path d="M942.2,467.3 v-3.4" stroke="#111" stroke-width="0.9"/>
<path d="M1005.7,467.3 v-3.4" stroke="#111" stroke-width="0.9"/>
<path d="M751.9,276.7 h4.3 M751.9,467.3 h4.3" stroke="#111" stroke-width="1.1"/>
<polyline points="754.8,277.0 755.0,396.0 755.5,419.4 756.7,440.5 758.5,447.6 759.6,452.2 760.8,442.3 762.3,448.7 763.2,446.4 764.3,450.5 765.2,447.6 766.7,453.4 768.2,441.7 769.0,444.6 769.8,441.1 770.8,442.9 772.5,433.5 774.1,419.4 775.2,430.0 776.4,438.2 777.2,437.0 779.0,447.0 779.9,430.0 780.7,437.0 781.6,430.0 782.7,420.0 783.7,440.5 784.6,447.0 786.2,424.7 787.4,434.7 788.6,445.2 790.5,449.3 791.9,442.9 793.3,425.3 793.9,391.0 794.6,396.0 795.5,384.7 796.6,396.0 797.1,417.1 798.3,430.0 798.7,442.3 799.5,428.8 800.3,441.7 802.0,419.4 803.2,431.2 805.0,442.3 807.1,444.0 808.9,430.0 809.8,435.8 811.2,430.6 811.8,438.2 813.0,413.6 813.5,380.8 814.5,372.6 815.5,396.0 816.2,419.4 817.1,444.6 818.2,436.4 819.4,438.2 820.6,432.3 821.8,442.9 823.3,451.1 824.5,426.5 825.9,451.1 827.0,431.2 828.2,396.0 828.6,376.8 829.6,396.0 830.5,447.0 831.7,407.1 832.9,431.2 834.3,450.5 836.4,428.8 837.8,439.9 839.3,433.5 840.5,422.4 841.7,430.6 842.9,396.0 843.2,388.2 844.0,396.0 844.6,431.2 845.8,445.2 847.0,448.7 848.4,444.0 849.3,447.6 851.1,446.4 852.2,447.6 853.4,414.8 854.2,415.3 855.2,439.4 856.9,452.2 859.3,452.5 861.2,446.7 862.8,449.8 865.2,456.1 868.3,460.0 870.6,459.2 873.8,462.3 878.4,464.2 883.1,464.7 887.8,465.1 894.1,466.2 901.9,466.8 914.4,467.0 921.4,466.6 923.0,463.1 925.3,451.4 926.9,445.9 928.8,442.0 930.8,431.1 932.7,407.6 934.3,387.5 935.5,401.4 937.0,426.4 939.4,441.2 941.7,438.1 944.1,435.8 945.9,445.1 948.0,445.1 950.3,454.5 952.2,460.0 955.0,459.2 958.1,460.4 961.2,460.8 964.4,461.8 967.5,460.0 970.6,459.2 973.8,460.8 976.9,463.1 979.2,465.4 981.2,467.5" fill="none" stroke="#ff2200" stroke-width="1.55" stroke-linejoin="round"/>
<text x="749.5" y="475.9" font-family="'Liberation Sans',sans-serif" stroke="#000" stroke-width="0.2" font-size="12" textLength="7.8" lengthAdjust="spacingAndGlyphs">0</text>
<text x="803.1" y="475.9" font-family="'Liberation Sans',sans-serif" stroke="#000" stroke-width="0.2" font-size="12" textLength="23.2" lengthAdjust="spacingAndGlyphs">300</text>
<text x="866.6" y="475.9" font-family="'Liberation Sans',sans-serif" stroke="#000" stroke-width="0.2" font-size="12" textLength="23.2" lengthAdjust="spacingAndGlyphs">600</text>
<text x="930.0" y="475.9" font-family="'Liberation Sans',sans-serif" stroke="#000" stroke-width="0.2" font-size="12" textLength="23.2" lengthAdjust="spacingAndGlyphs">900</text>
<text x="989.6" y="475.9" font-family="'Liberation Sans',sans-serif" stroke="#000" stroke-width="0.2" font-size="12" textLength="31.0" lengthAdjust="spacingAndGlyphs">1200</text>
<text x="720.1" y="276.8" font-family="'Liberation Sans',sans-serif" stroke="#000" stroke-width="0.2" font-size="11.6" textLength="30.6" lengthAdjust="spacingAndGlyphs">2000</text>
<text x="743.9" y="465.5" font-family="'Liberation Sans',sans-serif" stroke="#000" stroke-width="0.2" font-size="12" textLength="7.6" lengthAdjust="spacingAndGlyphs">0</text>
<text x="853.3" y="487.6" font-family="'Liberation Sans',sans-serif" stroke="#000" stroke-width="0.2" font-size="11.4" textLength="50" lengthAdjust="spacingAndGlyphs">E [MeV]</text>
<text transform="translate(716.3,417) rotate(-90) scale(1,1.13)" font-family="'Liberation Sans',sans-serif" stroke="#000" stroke-width="0.2" font-size="10.6" textLength="84" lengthAdjust="spacingAndGlyphs">dN/dE [arb. units]</text>
</svg></body></html>
